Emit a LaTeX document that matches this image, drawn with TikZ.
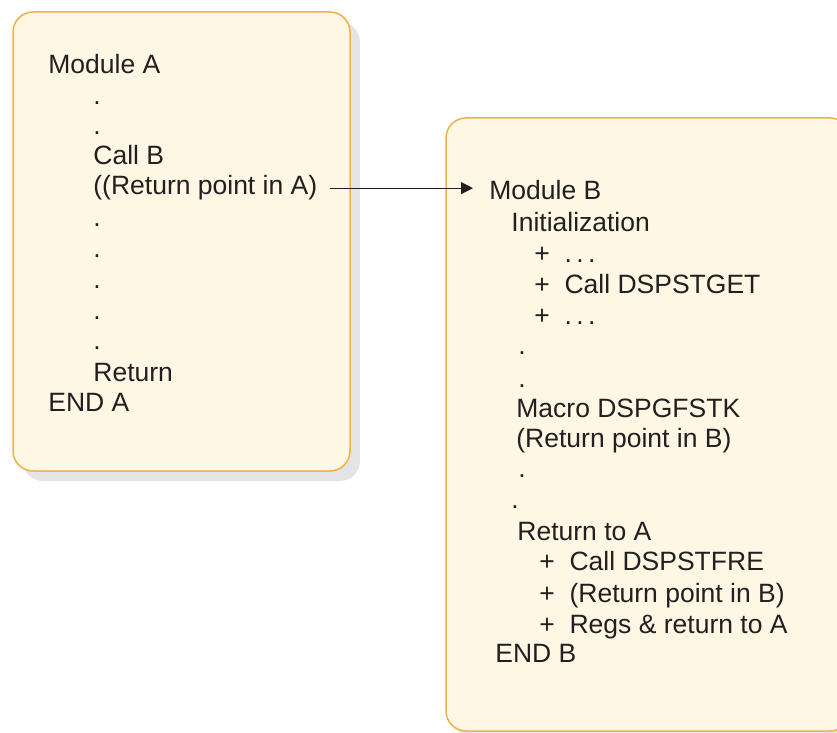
\documentclass[tikz,border=0pt]{standalone}
\usepackage{fontspec}
\setmainfont{Liberation Sans}
\usepackage{tikz}
\usetikzlibrary{arrows.meta, calc}
\definecolor{boxfill}{HTML}{FDF7E4}
\definecolor{boxedge}{HTML}{F2B04A}
\definecolor{shadowgray}{HTML}{E4E4E6}
\definecolor{inkgray}{HTML}{231F20}
\newcommand{\codefont}{\fontsize{13.25}{15}\selectfont}

\begin{document}
\begin{tikzpicture}[
    x=0.5pt, y=-0.5pt,
    modbox/.style={draw=boxedge, fill=boxfill, line width=0.75pt, rounded corners=10pt},
    shadowbox/.style={fill=shadowgray, rounded corners=10pt},
    codeline/.style={anchor=base west, inner sep=0pt, font=\codefont, text=inkgray},
    arrowline/.style={-{Triangle[length=6pt, width=6pt]}, line width=0.5pt, color=inkgray}
]
\useasboundingbox (0,0) rectangle (837,733);
\clip (0,0) rectangle (837,733);

% module boxes
\fill[shadowbox] (23,22) rectangle (360,481);
\draw[modbox] (13,12) rectangle (350,471);
\fill[shadowbox] (456,128) rectangle (860,741);
\draw[modbox] (446,118) rectangle (850,731);

% module A
\node[codeline] (ma) at (48, 74) {Module A};
\node[codeline] (a1) at (93, 105) {.};
\node[codeline] (a2) at (93, 135) {.};
\node[codeline] (cb) at (93, 165) {Call B};
\node[codeline] (ra) at (93, 195) {((Return point in A)};
\node[codeline] (a3) at (93, 227) {.};
\node[codeline] (a4) at (93, 258) {.};
\node[codeline] (a5) at (93, 289) {.};
\node[codeline] (a6) at (93, 320) {.};
\node[codeline] (a7) at (93, 350) {.};
\node[codeline] (rt) at (93, 382) {Return};
\node[codeline] (ea) at (48, 412) {END A};

% module B
\node[codeline] (mb) at (489, 200) {Module B};
\node[codeline] (in) at (511, 232) {Initialization};
\node[codeline] (i1) at (534, 263) {+~~.\,.\,.};
\node[codeline] (i2) at (534, 293) {+~~Call DSPSTGET};
\node[codeline] (i3) at (534, 325) {+~~.\,.\,.};
\node[codeline] (b1) at (518, 355) {.};
\node[codeline] (b2) at (518, 387) {.};
\node[codeline] (mc) at (516, 417) {Macro DSPGFSTK};
\node[codeline] (rb) at (516, 448) {(Return point in B)};
\node[codeline] (b3) at (518, 478) {.};
\node[codeline] (b4) at (511, 509) {.};
\node[codeline] (ta) at (517, 540) {Return to A};
\node[codeline] (r1) at (539, 570) {+~~Call DSPSTFRE};
\node[codeline] (r2) at (539, 603) {+~~(Return point in B)};
\node[codeline] (r3) at (539, 633) {+~~Regs \& return to A};
\node[codeline] (eb) at (495, 662) {END B};

\draw[arrowline, shorten <=6pt, shorten >=8pt] (ra.east) -- (ra.east -| mb.west);
\end{tikzpicture}
\end{document}
